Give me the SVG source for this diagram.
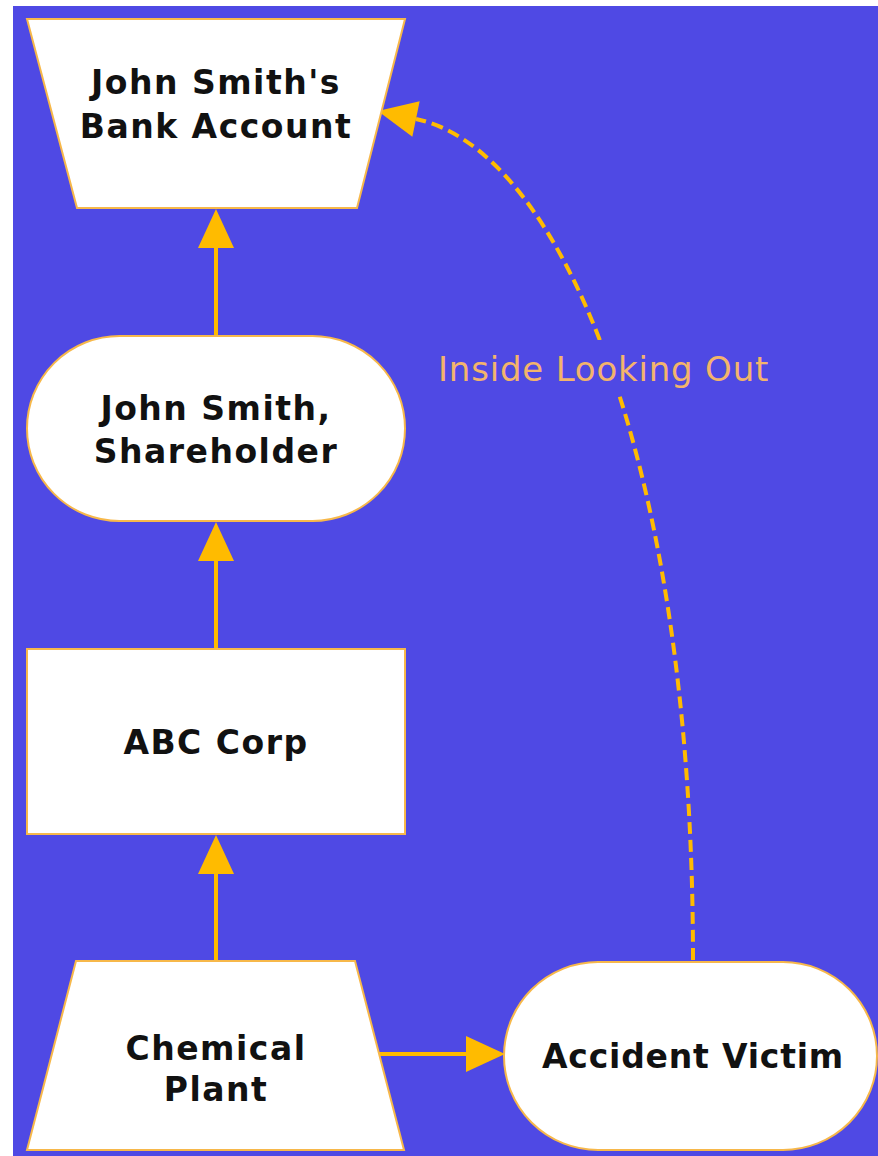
<svg xmlns="http://www.w3.org/2000/svg" width="878" height="1156" viewBox="0 0 878 1156">
  <style>
    .node { fill: #FFFFFF; stroke: #F7B84A; stroke-width: 2; }
    .lbl { font-family: "DejaVu Sans", Verdana, sans-serif; font-weight: bold; font-size: 33px; letter-spacing: 1.5px; fill: #111111; text-anchor: middle; }
    .conn { fill: none; stroke: #FFBB00; stroke-width: 4; }
    .dash { stroke-dasharray: 12 6; }
    .elbl { font-family: "DejaVu Sans", Verdana, sans-serif; font-size: 34px; letter-spacing: 0.8px; fill: #F3B46C; }
  </style>
  <defs>
    <marker id="ah" markerUnits="userSpaceOnUse" markerWidth="40" markerHeight="36" refX="0" refY="18" orient="auto" overflow="visible">
      <path d="M0,0 L39,18 L0,36 Z" fill="#FFBB00"/>
    </marker>
    <mask id="gap" maskUnits="userSpaceOnUse" x="0" y="0" width="878" height="1156">
      <rect x="0" y="0" width="878" height="1156" fill="#fff"/>
      <rect x="430" y="340" width="345" height="52" fill="#000"/>
    </mask>
  </defs>
  <rect x="0" y="0" width="878" height="1156" fill="#FFFFFF"/>
  <rect x="13" y="6" width="865" height="1150" fill="#4F49E4"/>

  <g id="connectors">
    <path class="conn" d="M216,336 L216,248" marker-end="url(#ah)"/>
    <path class="conn" d="M216,649 L216,561" marker-end="url(#ah)"/>
    <path class="conn" d="M216,961 L216,874" marker-end="url(#ah)"/>
    <path class="conn" d="M378,1054 L466,1054" marker-end="url(#ah)"/>
    <path class="conn dash" mask="url(#gap)" d="M693,960 C693,450 556,148 416,119" marker-end="url(#ah)"/>
    <text class="elbl" x="438" y="381">Inside Looking Out</text>
  </g>

  <g id="bank">
    <polygon class="node" points="27,19 405,19 357,208 77,208"/>
    <text class="lbl" x="216" y="94">John Smith's</text>
    <text class="lbl" x="216" y="138">Bank Account</text>
  </g>
  <g id="shareholder">
    <rect class="node" x="27" y="336" width="378" height="185" rx="92.5" ry="92.5"/>
    <text class="lbl" x="216" y="420">John Smith,</text>
    <text class="lbl" x="216" y="463">Shareholder</text>
  </g>
  <g id="abc">
    <rect class="node" x="27" y="649" width="378" height="185"/>
    <text class="lbl" x="216" y="754">ABC Corp</text>
  </g>
  <g id="plant">
    <polygon class="node" points="76,961 355,961 404,1150 27,1150"/>
    <text class="lbl" x="216" y="1060">Chemical</text>
    <text class="lbl" x="216" y="1101">Plant</text>
  </g>
  <g id="victim">
    <rect class="node" x="504" y="962" width="373" height="188" rx="94" ry="94"/>
    <text class="lbl" x="693" y="1068" style="letter-spacing:0.8px">Accident Victim</text>
  </g>
</svg>
